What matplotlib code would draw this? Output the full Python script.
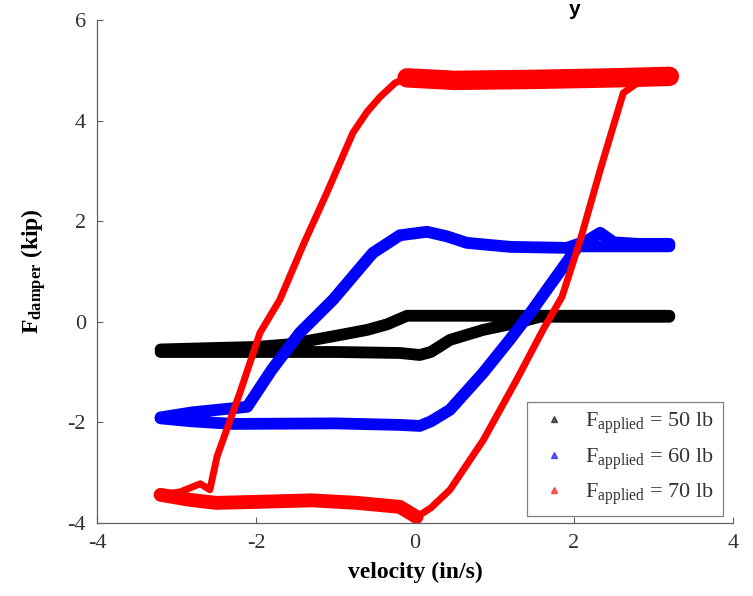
import matplotlib
matplotlib.use("Agg")
import matplotlib.pyplot as plt
from matplotlib.lines import Line2D

# ---- data (velocity in/s, force kip) ----
# F_applied = 50 lb  (black)
v50_up = [-3.2, -2.5, -2.0, -1.6, -1.28, -0.9, -0.6, -0.35, -0.1, 0.3, 1.0, 2.0, 3.2]
f50_up = [-0.55, -0.52, -0.50, -0.45, -0.36, -0.25, -0.16, -0.05, 0.12, 0.12, 0.12, 0.12, 0.12]
v50_dn = [3.2, 2.0, 1.57, 1.28, 0.86, 0.44, 0.2, 0.06, -0.19, -1.0, -2.0, -3.2]
f50_dn = [0.10, 0.10, 0.10, -0.02, -0.16, -0.36, -0.60, -0.66, -0.62, -0.60, -0.60, -0.60]

# F_applied = 60 lb  (blue)
v60_up = [-3.2, -2.8, -2.11, -1.8, -1.45, -1.03, -0.53, -0.19, 0.15, 0.4, 0.65, 1.2, 1.91, 2.15, 2.33, 2.5, 2.8, 3.2]
f60_up = [-1.90, -1.80, -1.69, -0.95, -0.22, 0.44, 1.37, 1.72, 1.79, 1.70, 1.57, 1.49, 1.47, 1.60, 1.77, 1.58, 1.55, 1.55]
v60_dn = [3.2, 2.6, 2.05, 1.66, 1.48, 1.19, 0.86, 0.44, 0.2, 0.06, -0.19, -1.0, -2.29, -2.8, -3.2]
f60_dn = [1.50, 1.50, 1.50, 0.64, 0.24, -0.36, -1.01, -1.75, -1.98, -2.07, -2.05, -2.02, -2.03, -1.98, -1.92]

# F_applied = 70 lb  (red)
v70_up = [-3.2, -2.95, -2.7, -2.58, -2.49, -2.2, -1.95, -1.70, -1.4, -1.11, -0.78, -0.6, -0.44, -0.25, -0.1, 0.5, 1.5, 2.5, 3.2]
f70_up = [-3.44, -3.38, -3.22, -3.34, -2.68, -1.40, -0.22, 0.44, 1.55, 2.56, 3.76, 4.18, 4.47, 4.75, 4.85, 4.80, 4.82, 4.85, 4.88]
v70_dn = [3.2, 2.8, 2.62, 2.33, 2.08, 1.85, 1.61, 1.28, 0.86, 0.44, 0.2, 0.02, -0.19, -0.73, -1.3, -1.99, -2.5, -2.83, -3.2]
f70_dn = [4.80, 4.75, 4.55, 3.02, 1.63, 0.50, -0.16, -1.15, -2.35, -3.34, -3.70, -3.88, -3.68, -3.60, -3.55, -3.58, -3.60, -3.54, -3.44]

labels = [r"F$_{\mathrm{applied}}$ = 50 lb",
          r"F$_{\mathrm{applied}}$ = 60 lb",
          r"F$_{\mathrm{applied}}$ = 70 lb"]
colors = ["#000000", "#0000ff", "#ff0000"]
xticks = [-4, -2, 0, 2, 4]
yticks = [-4, -2, 0, 2, 4, 6]

plt.rcParams["font.family"] = ["Liberation Serif", "DejaVu Serif"]
plt.rcParams["mathtext.fontset"] = "custom"
plt.rcParams["mathtext.rm"] = "Liberation Serif"
plt.rcParams["mathtext.it"] = "Liberation Serif:italic"
plt.rcParams["mathtext.bf"] = "Liberation Serif:bold"

fig = plt.figure(figsize=(7.53, 5.96), dpi=100)
ax = fig.add_axes([0.1288, 0.1225, 0.8446, 0.8439])

kw = dict(solid_capstyle="round", solid_joinstyle="round")
# black
ax.plot(v50_up + v50_dn, f50_up + f50_dn, color=colors[0], lw=8.5, **kw)
# blue
ax.plot(v60_up + v60_dn, f60_up + f60_dn, color=colors[1], lw=8.5, **kw)
# red: whole loop, then thicker flat (noisy) bands
ax.plot(v70_up + v70_dn, f70_up + f70_dn, color=colors[2], lw=5.0, **kw)
ax.plot(v70_up[14:], f70_up[14:], color=colors[2], lw=14, **kw)
ax.plot(v70_dn[11:], f70_dn[11:], color=colors[2], lw=10, **kw)

ax.set_xlim(-4, 4)
ax.set_ylim(-4, 6)
ax.set_xticks(xticks)
ax.set_yticks(yticks)
ax.set_xticklabels([str(t) for t in xticks])
ax.set_yticklabels([str(t) for t in yticks])
for s in ["top", "right"]:
    ax.spines[s].set_visible(False)
for s in ["left", "bottom"]:
    ax.spines[s].set_color("#606060")
    ax.spines[s].set_linewidth(0.9)
ax.tick_params(direction="in", length=4, width=0.8, color="#606060",
               labelsize=16, labelcolor="#333333", pad=8)

ax.set_xlabel("velocity (in/s)", fontsize=17, fontweight="bold", labelpad=6)
ax.set_ylabel(r"F$_{\mathbf{damper}}$ (kip)", fontsize=17, fontweight="bold", labelpad=14)

handles = [Line2D([], [], ls="none", marker="^", markersize=4, color=c, alpha=0.6)
           for c in colors]
leg = ax.legend(handles, labels, loc="lower right", bbox_to_anchor=(0.984, 0.014),
                borderaxespad=0, fancybox=False, framealpha=1, edgecolor="#808080",
                fontsize=16, handlelength=1.6, handletextpad=0.6, labelspacing=0.45,
                borderpad=0.4)
leg.get_frame().set_linewidth(0.9)
for t in leg.get_texts():
    t.set_color("#333333")

# cut-off title fragment visible at the top edge
fig.text(0.7635, 1.0, "y", fontsize=15, fontweight="bold", family="Liberation Sans",
         ha="center", va="top")

fig.savefig("out.png", dpi=100)
